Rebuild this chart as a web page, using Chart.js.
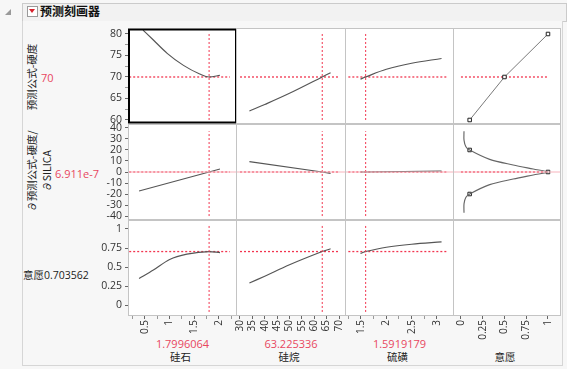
<!DOCTYPE html>
<html><head><meta charset="utf-8">
<script src="https://cdn.jsdelivr.net/npm/chart.js@4.4.1/dist/chart.umd.min.js"></script>
<style>
html,body{margin:0;padding:0;}
body{width:567px;height:369px;background:#f7f7f7;position:relative;overflow:hidden;font-family:"Open Sans","Noto Sans CJK SC",sans-serif;}
canvas{position:absolute;left:0;top:0;}
.t{position:absolute;white-space:nowrap;font-size:10.5px;color:#222;line-height:1;}
.cjk{font-family:"Noto Sans CJK SC","Open Sans",sans-serif;}
.red{color:#e8475f;}
.rot{transform:translate(-50%,-50%) rotate(-90deg);text-align:center;}
.ctr{transform:translate(-50%,-50%);}
.vc{transform:translateY(-50%);}
</style></head><body>
<div style="position:absolute;left:22px;top:3px;width:543px;height:17px;border:1px solid #cbcbcb;background:#f2f2f2;"></div>
<div style="position:absolute;left:22px;top:21px;width:539px;height:344px;border:1px solid #d6d6d6;border-top:none;background:#f7f7f7;"></div>
<div style="position:absolute;left:5px;top:9px;width:0;height:0;border-left:6px solid transparent;border-bottom:6px solid #9a9a9a;"></div>
<div style="position:absolute;left:27px;top:6px;width:9px;height:9px;border:1px solid #9a9a9a;background:#fff;"></div>
<div style="position:absolute;left:29px;top:9px;width:0;height:0;border-left:3px solid transparent;border-right:3px solid transparent;border-top:4px solid #d8202c;"></div>
<div class="t cjk" style="left:40px;top:5px;font-size:12px;font-weight:bold;color:#111;">预测刻画器</div>
<div id="labels"></div>
<script>
// ---------- data ----------
const factorNames  = ['硅石', '硅烷', '硫磺', '意愿'];
const factorValueText = ['1.7996064', '63.225336', '1.5919179', ''];
const currentSettings = [1.7996064, 63.225336, 1.5919179];
const responseNames = ['预测公式-硬度', '∂预测公式-硬度/∂SILICA', '意愿'];
const responseValueText = ['70', '6.911e-7', '0.703562'];
const responseValues = [70, 6.911e-7, 0.703562];

// row 1: predicted hardness
const silicaX_hard = [0.46, 0.67, 0.95, 1.28, 1.61, 1.80, 2.02];
const hardVsSilica = [80.9, 78.6, 75.5, 72.7, 70.7, 70.0, 70.4];
const silaneX_hard = [33.8, 40, 50, 63.2, 66.6];
const hardVsSilane = [62.1, 63.6, 66.2, 70.0, 71.0];
const sulfurX_hard = [1.49, 1.59, 2.0, 2.5, 3.09];
const hardVsSulfur = [69.5, 70.0, 71.8, 73.2, 74.3];
const hardDesirD = [0.1, 0.5, 1.0];
const hardDesirY = [60, 70, 80];

// row 2: derivative of hardness w.r.t. SILICA
const silicaX_der = [0.38, 1.80, 2.02];
const derVsSilica = [-17.3, 0, 2.7];
const silaneX_der = [33.8, 63.2, 66.6];
const derVsSilane = [9.4, 0, -1.2];
const sulfurX_der = [1.49, 1.59, 3.09];
const derVsSulfur = [0, 0, 0.9];
const derDesirD = [0.035, 0.035, 0.057, 0.1, 0.33, 0.6, 0.83, 1.0, 0.83, 0.6, 0.33, 0.1, 0.057, 0.035, 0.035];
const derDesirY = [-37, -29, -23, -20, -11.5, -6.4, -2.7, 0, 2.7, 6.4, 11.5, 20, 23, 29, 37];
const derHandleD = [0.1, 1.0, 0.1];
const derHandleY = [-20, 0, 20];

// row 3: overall desirability
const silicaX_des = [0.38, 0.67, 1.0, 1.35, 1.80, 2.02];
const desVsSilica = [0.35, 0.46, 0.60, 0.67, 0.7036, 0.69];
const silaneX_des = [33.8, 40, 50, 63.2, 66.6];
const desVsSilane = [0.29, 0.38, 0.53, 0.7036, 0.74];
const sulfurX_des = [1.49, 1.59, 2.0, 2.5, 3.09];
const desVsSulfur = [0.68, 0.7036, 0.76, 0.80, 0.83];

// axis ticks
const xTickLabels = [['0.5','1','1.5','2'], ['30','35','40','45','50','55','60','65','70'], ['1.5','2','2.5','3'], ['0','0.25','0.5','0.75','1']];
const xTickMinor  = [[0.25,0.75,1.25,1.75,2.25], [], [1.25,1.75,2.25,2.75], []];
const yTickLabels = [['60','65','70','75','80'], ['-40','-30','-20','-10','0','10','20','30','40'], ['0','0.25','0.5','0.75','1']];
const yTickMinor  = [[62.5,67.5,72.5,77.5], [], []];

// ---------- layout ----------
const W = 567, H = 369;
const cols = [[129,236],[237,345],[346,453],[454,560]];
const rows = [[29,123],[125,219],[221,315]];
const xRanges = [[0.176,2.345],[28.79,72.42],[1.204,3.316],[-0.08,1.138]];
const yRanges = [[59.3,81.16],[-42.7,42.7],[-0.13,1.105]];
const hSpan = [[0.18,2.22],[30,70],[1.25,3.2],[0,1]];
const vSpan = [[60,80],[-40,37],[-0.09,1.04]];
const YAXW = 30, XAXH = 26;
const CURVE = '#555555', RED = '#f2354f';

function pts(xs, ys){ return xs.map((x,i)=>({x, y: ys[i]})); }
function curve(xs, ys, extra){ return Object.assign({data: pts(xs, ys), showLine:true, borderColor:CURVE, borderWidth:1.15, pointRadius:0, tension:0.35, fill:false}, extra||{}); }
function dotted(a, b, w){ return {data:[a,b], showLine:true, borderColor:RED, borderWidth:w, borderDash:[2,2], pointRadius:0, tension:0, fill:false}; }
function solid(a, b, color){ return {data:[a,b], showLine:true, borderColor:color, borderWidth:1, pointRadius:0, tension:0, fill:false}; }

const curves = [
  [curve(silicaX_hard, hardVsSilica, {cubicInterpolationMode:'monotone'}), curve(silaneX_hard, hardVsSilane), curve(sulfurX_hard, hardVsSulfur),
   curve(hardDesirD, hardDesirY, {tension:0, borderColor:'#7a7a7a', borderWidth:1, pointRadius:2.5, pointStyle:'rect', pointBackgroundColor:'#fff', pointBorderColor:'#222', pointBorderWidth:1})],
  [curve(silicaX_der, derVsSilica, {tension:0}), curve(silaneX_der, derVsSilane, {tension:0}), curve(sulfurX_der, derVsSulfur, {tension:0}),
   curve(derDesirD, derDesirY, {tension:0.3, borderColor:'#666'})],
  [curve(silicaX_des, desVsSilica, {cubicInterpolationMode:'monotone'}), curve(silaneX_des, desVsSilane), curve(sulfurX_des, desVsSulfur), null]
];

const panelPlugin = {
  id:'panel',
  beforeDraw(chart){
    const a = chart.chartArea, c = chart.ctx;
    c.save(); c.fillStyle = '#fff'; c.fillRect(a.left, a.top, a.right-a.left, a.bottom-a.top); c.restore();
  },
  afterDraw(chart, args, opts){
    const a = chart.chartArea, c = chart.ctx;
    c.save();
    if (opts.selected){
      c.strokeStyle = '#000'; c.lineWidth = 2;
      c.strokeRect(a.left, a.top+0.5, a.right-a.left, a.bottom-a.top-1);
    } else {
      c.strokeStyle = '#c4c4c4'; c.lineWidth = 1;
      c.strokeRect(a.left-0.5, a.top-0.5, a.right-a.left+1, a.bottom-a.top+1);
    }
    c.restore();
  }
};

function labelMap(labels){ const m = {}; labels.forEach(l => m[(+l).toFixed(4)] = l); return m; }

for (let r = 0; r < 3; r++){
  for (let c = 0; c < 4; c++){
    const ds = [];
    if (r === 1){
      ds.push(solid({x:xRanges[c][0], y:0}, {x:xRanges[c][1], y:0}, '#f7b3bc'));
    }
    if (c < 3){
      ds.push(dotted({x:currentSettings[c], y:vSpan[r][0]}, {x:currentSettings[c], y:vSpan[r][1]}, 1));
    }
    if (curves[r][c]) ds.push(curves[r][c]);
    if (!(r === 2 && c === 3)){
      ds.push(dotted({x:hSpan[c][0], y:responseValues[r]}, {x:hSpan[c][1], y:responseValues[r]}, 1.3));
    }
    if (r === 1 && c === 3){
      ds.push(curve(derHandleD, derHandleY, {showLine:false, pointRadius:2.5, pointStyle:'rect', pointBackgroundColor:'#fff', pointBorderColor:'#222', pointBorderWidth:1}));
    }

    const showY = c === 0, showX = r === 2;
    const cv = document.createElement('canvas');
    cv.width = W; cv.height = H;
    document.body.appendChild(cv);

    const xl = labelMap(xTickLabels[c]), yl = labelMap(yTickLabels[r]);
    const xTicks = xTickLabels[c].map(Number).concat(xTickMinor[c]).sort((a,b)=>a-b);
    const yTicks = yTickLabels[r].map(Number).concat(yTickMinor[r]).sort((a,b)=>a-b);

    new Chart(cv.getContext('2d'), {
      type:'scatter',
      data:{datasets: ds},
      plugins:[panelPlugin],
      options:{
        responsive:false, animation:false, devicePixelRatio:1,
        layout:{padding:{
          left: cols[c][0] - (showY ? YAXW : 0),
          right: W - cols[c][1],
          top: rows[r][0],
          bottom: H - rows[r][1] - (showX ? XAXH : 0)
        }},
        plugins:{legend:{display:false}, tooltip:{enabled:false}, panel:{selected: r===0 && c===0}},
        scales:{
          x:{type:'linear', position:'bottom', min:xRanges[c][0], max:xRanges[c][1], display:showX,
             afterFit: s => { s.height = showX ? XAXH : 0; },
             afterBuildTicks: s => { s.ticks = xTicks.map(v => ({value:v})); },
             ticks:{autoSkip:false, minRotation:90, maxRotation:90, padding:1, color:'#333',
                    font:{family:'"Open Sans", sans-serif', size:10},
                    callback: v => xl[(+v).toFixed(4)] || ''},
             grid:{display:true, drawOnChartArea:false, drawTicks:true, tickLength:4,
                   tickColor: ctx => (ctx.tick && xl[(+ctx.tick.value).toFixed(4)]) ? '#666' : '#999'},
             border:{display:false}},
          y:{type:'linear', position:'left', min:yRanges[r][0], max:yRanges[r][1], display:showY,
             afterFit: s => { s.width = showY ? YAXW : 0; },
             afterBuildTicks: s => { s.ticks = yTicks.map(v => ({value:v})); },
             ticks:{autoSkip:false, padding:3, color:'#333',
                    font:{family:'"Open Sans", sans-serif', size:10.5},
                    callback: v => yl[(+v).toFixed(4)] || ''},
             grid:{display:true, drawOnChartArea:false, drawTicks:true, tickLength:4,
                   tickColor: ctx => (ctx.tick && yl[(+ctx.tick.value).toFixed(4)]) ? '#666' : '#999'},
             border:{display:false}}
        }
      }
    });
  }
}

// ---------- text labels ----------
const L = document.getElementById('labels');
function add(html, cls, style){ const d = document.createElement('div'); d.className = 't ' + cls; d.style.cssText = style; d.innerHTML = html; L.appendChild(d); }
add(responseNames[0], 'cjk rot', 'left:32px;top:77px;');
add(responseValueText[0], 'red vc', 'left:41px;top:77px;font-size:11px;');
add('∂预测公式-硬度/<br>∂SILICA', 'cjk rot', 'left:39px;top:171px;line-height:15px;');
add(responseValueText[1], 'red vc', 'left:55px;top:173px;font-size:11px;');
add(responseNames[2] + '<span style="font-family:\'Open Sans\'">' + responseValueText[2] + '</span>', 'cjk vc', 'left:23px;top:275px;');
for (let c = 0; c < 4; c++){
  const cx = (cols[c][0] + cols[c][1]) / 2;
  if (factorValueText[c]) add(factorValueText[c], 'red ctr', 'left:' + cx + 'px;top:343px;font-size:11px;');
  add(factorNames[c], 'cjk ctr', 'left:' + (cx - 2) + 'px;top:357px;');
}
</script>
</body></html>
